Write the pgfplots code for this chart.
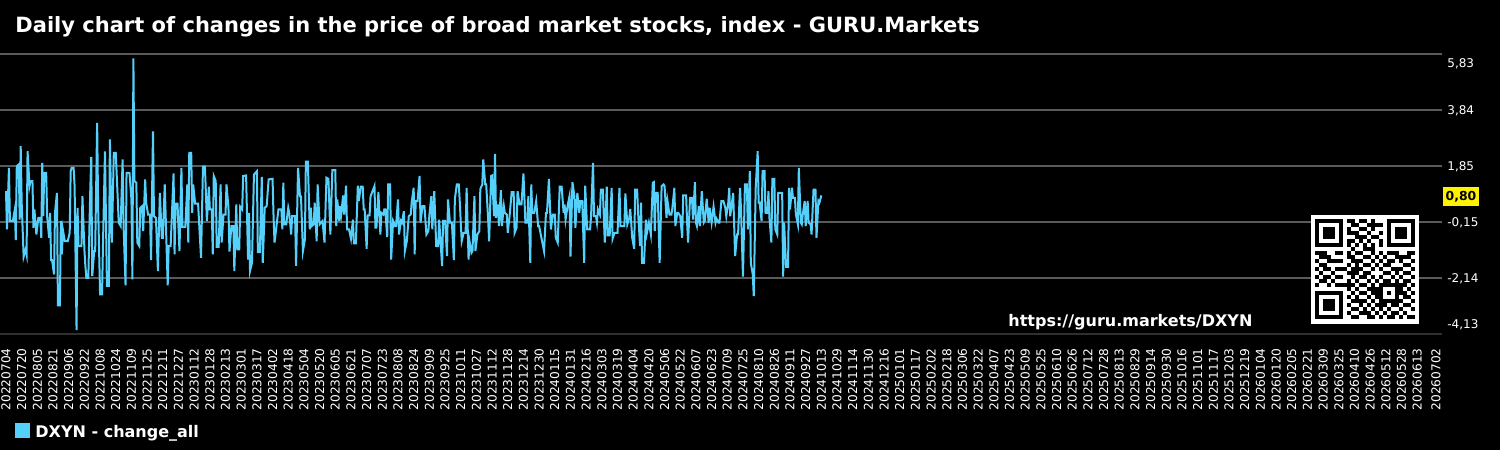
\documentclass[border=0pt]{standalone}
\usepackage{fontspec}
\setmainfont{DejaVu Sans}
\usepackage{pgfplots}
\pgfplotsset{compat=1.18}
\definecolor{linec}{HTML}{54D0FA}
\definecolor{gridc}{HTML}{5A5A5A}
\definecolor{botc}{HTML}{303030}
\begin{document}
\begin{tikzpicture}
\fill[black] (0,0) rectangle (750pt,-225pt);
\begin{axis}[
  at={(0pt,-167pt)}, anchor=south west,
  scale only axis, width=721pt, height=140pt,
  xmin=-6.12, xmax=1465.3, ymin=-4.13, ymax=5.83,
  axis line style={draw=none},
  ytick={-4.13,-2.138,-0.146,1.846,3.838,5.83},
  yticklabels={},
  ymajorgrids, grid style={gridc, line width=1pt},
  major tick length=0pt,
  xtick={0,16,...,1440,1459},
  xticklabels={20220704,20220720,20220805,20220821,20220906,20220922,20221008,20221024,20221109,20221125,20221211,20221227,20230112,20230128,20230213,20230301,20230317,20230402,20230418,20230504,20230520,20230605,20230621,20230707,20230723,20230808,20230824,20230909,20230925,20231011,20231027,20231112,20231128,20231214,20231230,20240115,20240131,20240216,20240303,20240319,20240404,20240420,20240506,20240522,20240607,20240623,20240709,20240725,20240810,20240826,20240911,20240927,20241013,20241029,20241114,20241130,20241216,20250101,20250117,20250202,20250218,20250306,20250322,20250407,20250423,20250509,20250525,20250610,20250626,20250712,20250728,20250813,20250829,20250914,20250930,20251016,20251101,20251117,20251203,20251219,20260104,20260120,20260205,20260221,20260309,20260325,20260410,20260426,20260512,20260528,20260613,20260702},
  xticklabel style={rotate=90, anchor=east, font=\fontsize{6.1}{7}\selectfont, text=white, inner sep=0pt},
  xticklabel shift=7pt,
]
\addplot[linec, line width=1pt, mark=none] table[x=d,y=v] {
d v
0 0.95
1 -0.41
3 1.78
4 -0.11
7 -0.11
9 0.30
10 -0.79
11 1.84
13 1.90
14 -0.06
15 2.55
16 0.54
18 -1.38
20 -1.12
21 -1.30
22 2.37
24 1.13
25 1.31
27 1.31
28 -0.35
29 0.30
31 -0.59
33 0.00
35 0.00
36 -0.71
37 1.96
38 0.06
39 1.60
41 1.60
42 0.06
44 -0.71
45 0.18
46 -1.50
47 -1.50
49 -2.01
50 0.18
52 0.89
53 -3.11
55 -3.11
56 -0.11
57 -1.30
58 -0.41
60 -0.83
63 -0.83
65 -0.53
66 1.66
67 1.78
69 1.78
70 1.13
72 -3.99
73 0.36
74 -1.00
77 -1.00
78 0.77
80 -1.12
81 -1.71
82 -2.13
84 -2.13
86 1.01
87 2.17
88 -2.07
90 -1.18
91 -1.18
93 3.38
94 0.42
96 -2.72
98 -2.72
99 -0.88
101 2.37
103 -2.42
105 -2.42
106 2.79
108 -0.88
110 2.31
112 2.31
114 0.71
115 -0.17
117 -0.29
119 2.08
120 -0.29
122 -2.40
123 1.60
126 1.60
128 0.66
129 -2.19
130 5.67
131 1.31
133 1.25
134 -0.88
136 -1.00
137 0.36
139 0.42
140 -0.47
142 1.37
143 0.54
145 0.12
147 0.12
148 -1.50
150 3.08
151 0.06
153 0.00
155 -1.89
157 0.89
159 -0.71
160 -0.71
162 1.19
165 -2.40
166 -1.00
168 -1.00
171 1.58
172 -1.30
173 0.51
175 0.51
177 -1.18
179 1.78
180 -0.32
183 -0.32
185 1.19
186 -0.88
187 2.31
189 2.31
190 0.18
191 1.19
193 0.51
196 0.51
199 -1.42
201 1.82
203 1.82
205 -0.11
207 1.11
208 0.30
210 0.30
211 -1.30
212 1.49
214 1.31
215 -1.03
217 -1.03
219 1.19
220 -0.88
222 0.12
224 0.12
225 1.19
227 0.36
228 -1.20
230 -0.29
232 -0.29
233 -1.89
235 0.48
236 -1.12
238 -1.12
239 0.40
241 0.30
242 1.49
245 1.51
247 -1.48
248 0.18
249 -1.89
251 -1.60
253 1.54
256 1.66
257 -1.22
259 -1.22
261 1.46
262 -1.60
264 0.36
266 0.42
268 1.37
272 1.39
273 0.06
274 -0.88
278 0.30
281 0.30
282 -0.41
283 1.25
284 -0.23
286 -0.23
288 0.36
289 0.18
291 -0.59
292 0.06
295 0.06
296 -1.71
298 1.78
300 0.77
301 0.77
303 -1.18
305 -0.77
306 2.00
308 2.00
310 -0.41
311 0.36
312 -0.29
314 -0.23
315 0.54
317 -0.83
318 1.19
320 -0.23
323 -0.11
325 -0.88
327 1.43
329 1.39
331 -0.59
333 1.70
336 1.70
337 -0.29
338 0.66
340 -0.11
341 0.42
342 0.12
344 0.80
345 0.12
347 1.15
348 -0.41
350 -0.41
352 -0.74
354 -0.06
355 -0.91
357 -0.91
359 1.15
360 0.60
362 1.11
364 1.11
365 0.30
366 0.30
368 -1.10
369 0.09
371 0.09
372 0.77
374 0.95
376 1.13
377 -0.35
378 -0.35
380 0.92
382 -0.59
383 0.18
385 0.12
386 0.30
387 0.30
389 -0.68
390 1.19
392 1.19
393 -1.48
395 -0.11
397 -0.29
398 -0.29
400 0.66
401 -0.59
403 -0.11
404 -0.17
406 0.24
407 -1.18
409 -0.83
411 0.06
413 0.12
414 0.56
416 1.07
417 -1.30
418 0.60
420 0.60
422 1.49
423 -0.17
425 0.42
427 0.42
429 -0.59
431 -0.47
432 0.09
434 0.77
435 -0.41
437 0.95
439 -1.00
441 -1.00
442 -0.06
445 -1.71
446 -0.11
448 -0.11
450 -1.36
451 0.66
453 -0.17
455 -0.17
457 -1.50
458 0.66
460 1.19
462 1.19
463 0.60
465 -0.83
467 -0.53
469 -0.53
470 1.07
472 -1.48
473 -0.83
475 -1.24
476 -1.18
478 0.77
479 -1.18
481 -0.59
483 -0.47
484 1.03
486 1.19
487 2.08
489 1.19
490 1.19
492 -0.06
493 -0.83
495 1.49
496 1.51
498 0.06
499 2.28
500 0.00
502 0.48
503 -0.29
505 0.99
506 -0.29
508 0.42
509 0.18
511 0.12
512 -0.53
514 0.12
516 0.92
518 0.92
519 -0.53
521 -0.35
522 0.95
524 0.48
526 0.48
528 1.58
530 -0.17
532 -0.17
533 0.77
535 -1.60
536 1.19
537 0.18
539 0.18
541 0.60
543 -0.29
544 -0.29
546 -0.65
549 -1.18
551 0.18
552 0.18
554 1.39
556 -0.41
558 0.12
560 0.12
561 -0.71
563 -0.88
565 1.11
567 1.11
569 0.18
570 0.48
571 -0.06
573 0.42
575 0.77
576 -1.38
578 1.27
580 0.77
581 -0.35
583 0.89
585 0.18
586 0.60
588 0.60
590 -1.60
591 1.15
593 -0.41
596 -0.41
597 0.06
599 1.96
600 0.06
602 0.06
603 -0.17
604 0.30
606 0.12
607 1.01
609 1.01
611 -0.88
613 1.11
614 -0.62
616 -0.62
618 1.07
619 -0.74
621 -0.53
624 -0.53
626 1.07
627 -0.29
631 -0.29
632 0.87
634 -0.23
636 0.00
637 0.32
639 -0.71
641 -1.10
642 1.01
644 1.01
645 0.18
647 -1.00
648 0.54
649 -1.60
651 -1.60
653 -0.06
654 -0.53
656 -0.17
658 -0.59
660 1.25
661 1.27
662 -0.47
663 0.89
665 0.89
667 -1.60
669 1.13
671 1.19
672 1.13
674 0.00
675 0.60
677 0.12
679 0.12
680 0.36
682 1.07
683 -0.29
685 0.18
686 0.18
688 0.06
690 -0.71
691 0.80
694 0.80
695 -0.17
696 -0.88
698 0.71
700 0.71
701 -0.06
703 1.27
704 -0.17
705 -0.29
707 0.42
708 -0.29
710 0.95
712 -0.17
713 -0.11
715 0.68
717 -0.17
718 0.36
720 -0.17
722 0.40
724 -0.17
725 -0.03
727 -0.17
728 -0.17
730 0.60
732 0.60
734 0.36
735 0.06
737 0.54
738 1.07
739 0.06
741 0.60
742 0.89
744 -1.36
746 -0.59
747 -0.59
749 1.07
750 0.30
752 -2.09
754 1.19
756 1.19
757 -0.41
759 1.66
760 -1.60
762 -2.01
763 -2.78
765 1.07
767 2.37
768 0.54
769 0.54
771 -0.11
772 1.66
774 1.66
775 0.18
777 0.18
778 0.95
779 0.00
781 -0.88
782 1.39
784 1.39
785 -0.41
787 -0.59
788 0.89
792 0.89
793 -2.09
794 -0.17
796 -1.74
798 -1.74
799 1.07
800 0.30
802 1.07
803 0.71
805 0.71
806 0.12
808 -0.23
809 1.78
811 -0.17
812 -0.23
813 0.12
815 0.60
816 -0.29
818 0.60
819 -0.17
821 -0.23
822 -0.59
824 1.01
826 1.01
827 -0.71
829 0.60
830 0.54
832 0.80
};
\end{axis}
\begin{scope}[x=0.5pt,y=-0.5pt]
\draw[botc, line width=1pt] (0,334) -- (1442,334);
% title
\node[anchor=base west, inner sep=0pt, text=white, font=\bfseries\fontsize{10.5}{12}\selectfont] at (15,32) {Daily chart of changes in the price of broad market stocks, index - GURU.Markets};
% y tick labels (right side)
\foreach \yy/\lab in {64/{5,83},111/{3,84},167/{1,85},223/{-0,15},279/{-2,14},325/{-4,13}}{
  \node[anchor=west, inner sep=0pt, text=white, font=\fontsize{6}{7}\selectfont] at (1447,\yy) {\lab};
}
% last value label
\node[fill=yellow, text=black, inner sep=0pt, minimum width=18pt, minimum height=9.5pt, font=\bfseries\fontsize{6.2}{7}\selectfont] at (1461,196.5) {0,80};
% QR code
\fill[white] (1311,215) rectangle (1419,324);
\foreach \ox/\oy in {1315/219,1387/219,1315/291}{
  \fill[black] (\ox,\oy) rectangle ++(28,28);
  \fill[white] (\ox+4,\oy+4) rectangle ++(20,20);
  \fill[black] (\ox+8,\oy+8) rectangle ++(12,12);
}
\fill[black] (1379,283) rectangle ++(20,20);
\fill[white] (1383,287) rectangle ++(12,12);
\fill[black] (1387,291) rectangle ++(4,4);
\foreach \k in {8,10,12,14,16}{
  \fill[black] (1315+4*\k,219+24) rectangle ++(4,4);
  \fill[black] (1315+24,219+4*\k) rectangle ++(4,4);
}
\foreach \r/\cs in {0/{8,9,11,12,14},1/{9,10,13,14,15,16},2/{8,11,12,14},3/{8,9,10,13,16},4/{10,11,12,14,15},5/{8,9,11,13,16},7/{9,12,13,14},
 8/{0,1,2,5,8,10,11,14,16,18,19,20,23,24},9/{1,2,3,8,9,12,13,15,17,20,21,22,23},10/{0,3,4,5,9,10,11,14,16,18,19,21,24},
 11/{1,2,8,10,12,13,15,17,18,22,23},12/{0,2,3,5,7,9,10,11,14,16,19,20,21,24},13/{1,4,8,9,10,12,13,17,18,20,22,23},
 14/{0,2,3,5,9,11,12,14,16,19,21,24},15/{1,2,4,8,10,13,15,17,18,20,22,23},16/{0,3,5,7,8,9,11,12,14,21,22,24},
 17/{8,10,13,14,15,21,23},18/{9,11,12,14,15,21,22,24},19/{8,10,13,15,22,23},20/{9,10,11,12,14,21,24},
 21/{8,11,13,15,16,17,19,20,22,23},22/{9,10,12,14,16,18,21,24},23/{8,11,12,13,15,17,19,20,22},24/{9,10,13,14,16,18,19,21,23,24}}{
  \foreach \c in \cs { \fill[black] (1315+4*\c,219+4*\r) rectangle ++(4,4); }
}
% url
\node[anchor=base west, inner sep=0pt, text=white, font=\bfseries\fontsize{8}{10}\selectfont] at (1008,326) {https://guru.markets/DXYN};
% legend
\fill[linec] (15,423) rectangle (30,438);
\node[anchor=base west, inner sep=0pt, text=white, font=\bfseries\fontsize{8}{10}\selectfont] at (35,437) {DXYN - change\_all};
\end{scope}
\pgfresetboundingbox
\useasboundingbox (0,0) rectangle (750pt,-225pt);
\end{tikzpicture}
\end{document}
